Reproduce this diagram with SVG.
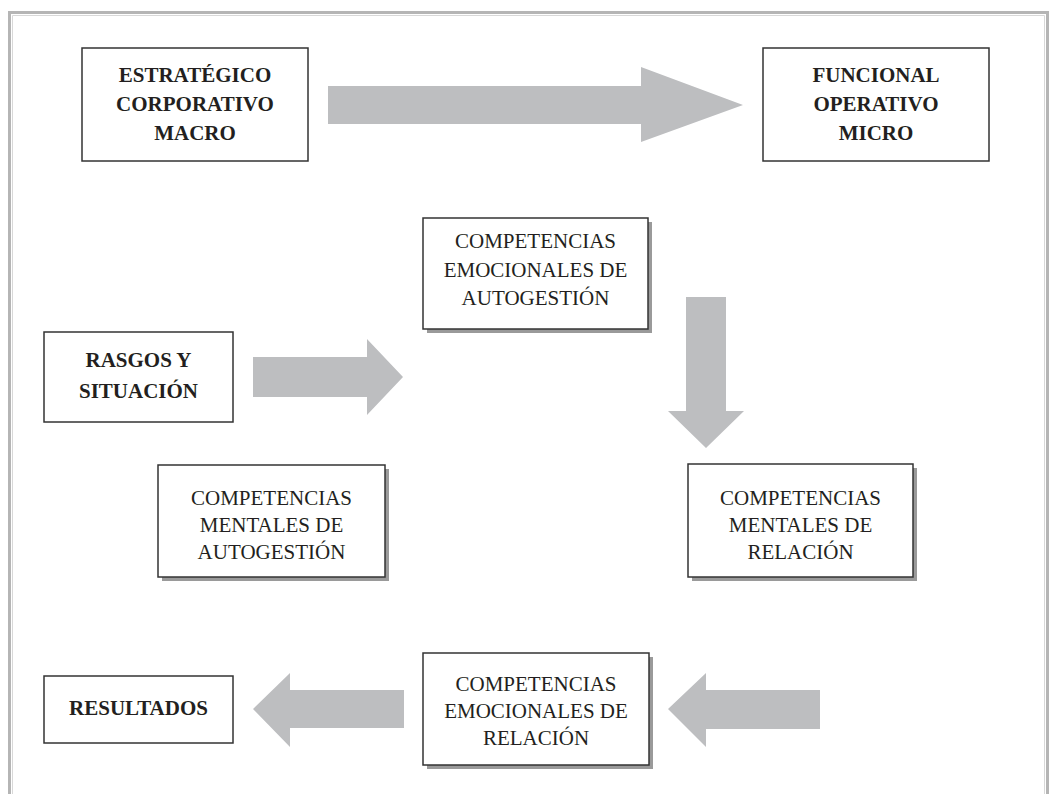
<svg xmlns="http://www.w3.org/2000/svg" width="1053" height="794" viewBox="0 0 1053 794">
<style>
.box{fill:#fff;stroke:#333;stroke-width:1.5}
.sh{fill:#9a9a9a}
.arrow{fill:#bdbec0}
.tb{font-family:"Liberation Serif","Times New Roman",serif;font-weight:bold;font-size:21px;fill:#231f20;text-anchor:middle}
.tr{font-family:"Liberation Serif","Times New Roman",serif;font-size:21px;fill:#231f20;text-anchor:middle}
</style>
<rect width="1053" height="794" fill="#fff"/>
<g id="frame">
<path d="M9.5,800 V12.5 H1047.5 V800" fill="none" stroke="#b5b5b5" stroke-width="3"/>
<path d="M12.5,800 V15.5 H1044.5 V800" fill="none" stroke="#d8d8d8" stroke-width="1"/>
</g>
<g id="connectors">
<polygon class="arrow" points="328,86 641,86 641,67 743,105 641,142 641,124 328,124"/>
<polygon class="arrow" points="253,357 367,357 367,339 403,377 367,415 367,397 253,397"/>
<polygon class="arrow" points="686,297 726,297 726,411 744,411 706,448 668,411 686,411"/>
<polygon class="arrow" points="820,690 706,690 706,673 668,709 706,747 706,729 820,729"/>
<polygon class="arrow" points="404,690 290,690 290,673 253,709 290,747 290,728 404,728"/>
</g>
<g id="estrategico">
<rect class="box" x="82" y="48" width="226" height="113"/>
<text class="tb" x="195" y="82">ESTRATÉGICO</text>
<text class="tb" x="195" y="111">CORPORATIVO</text>
<text class="tb" x="195" y="140">MACRO</text>
</g>
<g id="funcional">
<rect class="box" x="763" y="48" width="226" height="113"/>
<text class="tb" x="876" y="82">FUNCIONAL</text>
<text class="tb" x="876" y="111">OPERATIVO</text>
<text class="tb" x="876" y="140">MICRO</text>
</g>
<g id="emo-autogestion">
<rect class="sh" x="427" y="222" width="225" height="111"/>
<rect class="box" x="423" y="218" width="225" height="111"/>
<text class="tr" x="535.5" y="248">COMPETENCIAS</text>
<text class="tr" x="535.5" y="277">EMOCIONALES DE</text>
<text class="tr" x="535.5" y="305">AUTOGESTIÓN</text>
</g>
<g id="rasgos">
<rect class="box" x="44" y="332" width="189" height="90"/>
<text class="tb" x="138.5" y="367">RASGOS Y</text>
<text class="tb" x="138.5" y="398">SITUACIÓN</text>
</g>
<g id="men-autogestion">
<rect class="sh" x="162" y="469" width="227" height="112"/>
<rect class="box" x="158" y="465" width="227" height="112"/>
<text class="tr" x="271.5" y="505">COMPETENCIAS</text>
<text class="tr" x="271.5" y="532">MENTALES DE</text>
<text class="tr" x="271.5" y="559">AUTOGESTIÓN</text>
</g>
<g id="men-relacion">
<rect class="sh" x="692" y="468" width="225" height="113"/>
<rect class="box" x="688" y="464" width="225" height="113"/>
<text class="tr" x="800.5" y="505">COMPETENCIAS</text>
<text class="tr" x="800.5" y="532">MENTALES DE</text>
<text class="tr" x="800.5" y="559">RELACIÓN</text>
</g>
<g id="resultados">
<rect class="box" x="44" y="676" width="189" height="67"/>
<text class="tb" x="138.5" y="715">RESULTADOS</text>
</g>
<g id="emo-relacion">
<rect class="sh" x="427" y="657" width="226" height="112"/>
<rect class="box" x="423" y="653" width="226" height="112"/>
<text class="tr" x="536" y="691">COMPETENCIAS</text>
<text class="tr" x="536" y="718">EMOCIONALES DE</text>
<text class="tr" x="536" y="745">RELACIÓN</text>
</g>
</svg>
